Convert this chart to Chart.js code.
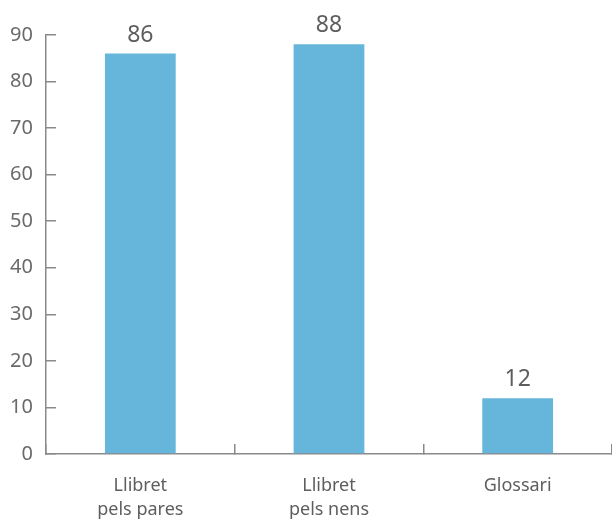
<!DOCTYPE html>
<html>
<head>
<meta charset="utf-8">
<script src="https://cdn.jsdelivr.net/npm/chart.js@4"></script>
<style>
  html, body { margin: 0; padding: 0; background: #fff; }
  #wrap { width: 612px; height: 522px; position: relative; }
</style>
</head>
<body>
<div id="wrap"><canvas id="chart"></canvas></div>
<script>
var categories = [['Llibret', 'pels pares'], ['Llibret', 'pels nens'], ['Glossari']];
var values = [86, 88, 12];
var yTicks = [0, 10, 20, 30, 40, 50, 60, 70, 80, 90];

var axisColor = '#8a8a8a';
var textColor = '#5e5e5e';
Chart.defaults.font.family = '"Noto Sans", "Open Sans", sans-serif';

// value labels above each bar
var valueLabels = {
  id: 'valueLabels',
  afterDatasetsDraw: function (chart) {
    var ctx = chart.ctx;
    var meta = chart.getDatasetMeta(0);
    ctx.save();
    ctx.fillStyle = textColor;
    ctx.font = '23px "Noto Sans", "Open Sans", sans-serif';
    ctx.textAlign = 'center';
    ctx.textBaseline = 'alphabetic';
    meta.data.forEach(function (bar, i) {
      ctx.fillText(values[i], bar.x, bar.y - 12);
    });
    ctx.restore();
  }
};

new Chart(document.getElementById('chart'), {
  type: 'bar',
  data: {
    labels: categories,
    datasets: [{ data: values, backgroundColor: '#66b6db', categoryPercentage: 1, barPercentage: 0.375 }]
  },
  options: {
    responsive: true,
    maintainAspectRatio: false,
    animation: false,
    layout: { padding: { top: 34, left: 0, right: 0, bottom: 0 } },
    plugins: { legend: { display: false }, tooltip: { enabled: false } },
    scales: {
      y: {
        min: 0, max: 90,
        afterBuildTicks: function (scale) { scale.ticks = yTicks.map(function (v) { return { value: v }; }); },
        afterFit: function (scale) { scale.width = 46; },
        border: { color: axisColor, width: 1.5 },
        grid: { drawOnChartArea: false, tickLength: -10, color: axisColor, lineWidth: 1.5 },
        ticks: { color: '#6a6a6a', padding: 23, font: { size: 20 } }
      },
      x: {
        afterFit: function (scale) { scale.height = 68; },
        border: { color: axisColor, width: 1.5 },
        grid: { drawOnChartArea: false, tickLength: -10, color: axisColor, lineWidth: 1.5, offset: true },
        ticks: { color: textColor, padding: 30, font: { size: 18, lineHeight: 1.33 }, maxRotation: 0 }
      }
    }
  },
  plugins: [valueLabels]
});
</script>
</body>
</html>
